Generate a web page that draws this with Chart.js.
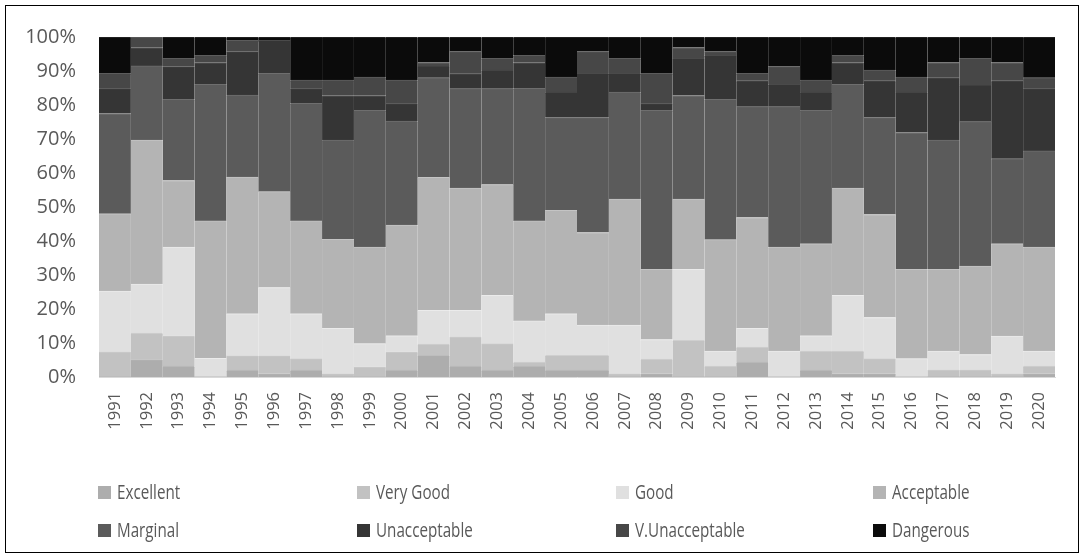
<!DOCTYPE html>
<html>
<head>
<meta charset="utf-8">
<script src="https://cdn.jsdelivr.net/npm/chart.js@4.4.1/dist/chart.umd.min.js"></script>
<style>
  html, body { margin: 0; padding: 0; background: #fff; }
  body { width: 1084px; height: 558px; position: relative; overflow: hidden; font-family: "Open Sans", sans-serif; }
  #frame { position: absolute; left: 5px; top: 5px; width: 1072px; height: 546px; border: 1px solid #000; pointer-events: none; }
  #wrap { position: absolute; left: 0; top: 0; width: 1084px; height: 460px; }
  #legend { position: absolute; left: 0; top: 0; width: 1084px; height: 558px; pointer-events: none; }
  .item { position: absolute; display: flex; align-items: center; font-size: 20px; color: #595959; white-space: nowrap; line-height: 1; }
  .box { width: 13px; height: 13px; margin-right: 6px; flex: none; }
  .txt { display: inline-block; transform: scaleX(0.76); transform-origin: left center; }
</style>
</head>
<body>
<div id="wrap"><canvas id="c"></canvas></div>
<div id="legend"></div>
<div id="frame"></div>
<script>
const years = ["1991","1992","1993","1994","1995","1996","1997","1998","1999","2000","2001","2002","2003","2004","2005","2006","2007","2008","2009","2010","2011","2012","2013","2014","2015","2016","2017","2018","2019","2020"];
const seriesNames = ["Excellent","Very Good","Good","Acceptable","Marginal","Unacceptable","V.Unacceptable","Dangerous"];
const yTickValues = [0,10,20,30,40,50,60,70,80,90,100];

const excellent     = [0,5.1,3.2,0,2.0,1.0,2.0,0,0,2.0,6.4,3.2,2.0,3.2,2.0,2.0,0,1.0,0,0,4.4,0,2.0,1.0,1.0,0,0,0,0,1.0];
const veryGood      = [7.5,7.8,8.9,0,4.3,5.3,3.4,1.0,3.0,5.4,3.3,8.7,7.8,1.2,4.4,4.4,1.0,4.3,10.8,3.2,4.4,0,5.6,6.6,4.4,0,2.2,2.2,1.0,2.2];
const good          = [17.8,14.4,26.1,5.5,12.3,20.0,13.2,13.3,6.8,4.7,9.9,7.7,14.2,12.1,12.2,8.9,14.3,5.7,20.9,4.4,5.5,7.6,4.5,16.4,12.1,5.4,5.4,4.4,11.0,4.4];
const acceptable    = [22.7,42.4,19.6,40.4,40.2,28.2,27.3,26.2,28.4,32.6,39.1,36.0,32.6,29.4,30.4,27.2,37.0,20.7,20.6,32.8,32.6,30.6,27.1,31.6,30.3,26.3,24.1,26.0,27.2,30.6];
const marginal      = [29.5,21.8,23.9,40.2,24.1,34.8,34.6,29.2,40.2,30.6,29.3,29.2,28.2,39.0,27.3,33.8,31.5,46.7,30.5,41.3,32.6,41.3,39.2,30.5,28.5,40.2,38.0,42.5,25.0,28.3];
const unacceptable  = [7.3,5.4,9.6,6.4,12.8,9.7,4.3,13.1,4.4,5.1,3.5,4.4,5.5,7.6,7.5,13.0,5.5,2.0,10.9,12.9,7.6,6.6,5.4,6.4,10.8,11.9,18.3,10.8,22.9,18.3];
const vUnacceptable = [4.5,3.1,2.4,2.1,3.3,0,2.5,4.5,5.4,6.9,1.0,6.5,3.4,2.1,4.4,6.4,4.4,8.9,3.2,1.1,2.2,5.2,3.5,2.1,3.2,4.4,4.5,7.8,5.4,3.2];
const dangerous     = [10.7,0,6.3,5.4,1.0,1.0,12.7,12.7,11.8,12.7,7.5,4.3,6.3,5.4,11.8,4.3,6.3,10.7,3.1,4.3,10.7,8.7,12.7,5.4,9.7,11.8,7.5,6.3,7.5,12.0];

const seriesValues = [excellent, veryGood, good, acceptable, marginal, unacceptable, vUnacceptable, dangerous];
const fills   = ["#adadad","#c2c2c2","#e0e0e0","#b4b4b4","#5b5b5b","#353535","#474747","#0b0b0b"];
const borders = ["#bdbdbd","#cfcfcf","#ebebeb","#c4c4c4","#6e6e6e","#4a4a4a","#5c5c5c","#2a2a2a"];

const datasets = seriesNames.map((name, i) => ({
  label: name,
  data: seriesValues[i],
  backgroundColor: fills[i],
  borderColor: borders[i],
  borderWidth: {top: 1, right: 0, bottom: 0, left: 0},
  borderSkipped: false,
  barPercentage: 1.0,
  categoryPercentage: 1.0
}));

const CHART_LEFT = 99, CHART_RIGHT = 1055, CHART_TOP = 37, CHART_BOTTOM = 377;
const CANVAS_H = 460;

new Chart(document.getElementById('c'), {
  type: 'bar',
  data: { labels: years, datasets },
  options: {
    responsive: true,
    maintainAspectRatio: false,
    animation: false,
    layout: { padding: { left: 0, top: CHART_TOP, right: 1084 - CHART_RIGHT, bottom: 0 } },
    plugins: { legend: { display: false }, tooltip: { enabled: false } },
    scales: {
      x: {
        stacked: true,
        grid: { display: false, drawTicks: false },
        border: { display: true, color: '#d9d9d9', width: 1 },
        ticks: {
          color: '#595959',
          font: { family: 'Open Sans', size: 16.5 },
          minRotation: 90, maxRotation: 90,
          autoSkip: false,
          padding: 15
        },
        afterFit(scale) { scale.height = CANVAS_H - CHART_BOTTOM; }
      },
      y: {
        stacked: true,
        min: 0, max: 100,
        afterBuildTicks(scale) { scale.ticks = yTickValues.map(v => ({ value: v })); },
        grid: { display: false, drawTicks: false },
        border: { display: false },
        ticks: {
          color: '#595959',
          font: { family: 'Open Sans', size: 20 },
          padding: 23,
          callback: v => v + '%'
        },
        afterFit(scale) { scale.width = CHART_LEFT; }
      }
    }
  }
});

// HTML legend, 4 columns x 2 rows
const legendCols = [98, 357, 616, 873];
const legendRows = [492, 530];
const lg = document.getElementById('legend');
seriesNames.forEach((name, i) => {
  const d = document.createElement('div');
  d.className = 'item';
  d.style.left = legendCols[i % 4] + 'px';
  d.style.top = (legendRows[Math.floor(i / 4)] - 12) + 'px';
  d.style.height = '24px';
  const b = document.createElement('span');
  b.className = 'box';
  b.style.background = fills[i];
  const t = document.createElement('span');
  t.className = 'txt';
  t.textContent = name;
  d.appendChild(b); d.appendChild(t);
  lg.appendChild(d);
});
</script>
</body>
</html>
